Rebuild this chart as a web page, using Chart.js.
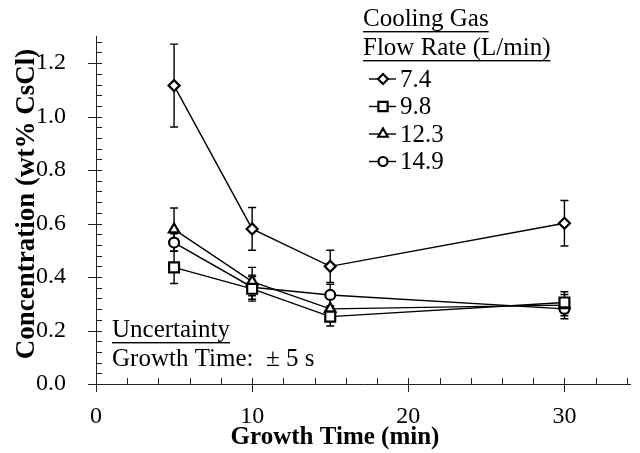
<!DOCTYPE html>
<html>
<head>
<meta charset="utf-8">
<script src="https://cdn.jsdelivr.net/npm/chart.js@4.4.1/dist/chart.umd.min.js"></script>
<style>
  html, body { margin: 0; padding: 0; background: #fff; }
  canvas { display: block; }
</style>
</head>
<body>
<canvas id="concChart" width="640" height="453"></canvas>
<script>
// Growth time (min) and CsCl concentration for each cooling gas flow rate
const growthTimes = [5, 10, 15, 30];
const flowRates = ['7.4', '9.8', '12.3', '14.9'];

const conc74 = [1.116, 0.580, 0.440, 0.601];
const conc98 = [0.436, 0.356, 0.252, 0.305];
const conc123 = [0.578, 0.383, 0.281, 0.295];
const conc149 = [0.529, 0.362, 0.333, 0.281];

// +/- uncertainty on concentration
const err74 = [0.155, 0.080, 0.060, 0.085];
const err98 = [0.060, 0.046, 0.035, 0.040];
const err123 = [0.080, 0.053, 0.040, 0.040];
const err149 = [0.033, 0.045, 0.040, 0.037];

const xTicks = [0, 10, 20, 30];
const yTicks = [0.0, 0.2, 0.4, 0.6, 0.8, 1.0, 1.2];

const serif = "'Liberation Serif', 'Times New Roman', serif";

const markers = [
  { pointStyle: 'rectRot', radius: 5.5 },
  { pointStyle: 'rect', radius: 7 },
  { pointStyle: 'triangle', radius: 6 },
  { pointStyle: 'circle', radius: 5 }
];

const seriesValues = [conc74, conc98, conc123, conc149];
const seriesErrors = [err74, err98, err123, err149];

const datasets = seriesValues.map((vals, i) => ({
  label: flowRates[i],
  data: growthTimes.map((t, j) => ({ x: t, y: vals[j] })),
  errors: seriesErrors[i],
  borderColor: '#000',
  borderWidth: 1.4,
  pointStyle: markers[i].pointStyle,
  pointRadius: markers[i].radius,
  pointBorderWidth: 2.2,
  pointBackgroundColor: '#fff',
  pointBorderColor: '#000',
  tension: 0
}));

// vertical error bars with caps, drawn under the markers
const errorBars = {
  id: 'errorBars',
  beforeDatasetsDraw(chart) {
    const { ctx, scales: { x, y } } = chart;
    ctx.save();
    ctx.strokeStyle = '#000';
    ctx.lineWidth = 1.4;
    chart.data.datasets.forEach(ds => {
      ds.data.forEach((p, j) => {
        const e = ds.errors[j];
        const px = x.getPixelForValue(p.x);
        const top = y.getPixelForValue(p.y + e);
        const bot = y.getPixelForValue(p.y - e);
        ctx.beginPath();
        ctx.moveTo(px, top); ctx.lineTo(px, bot);
        ctx.moveTo(px - 4, top); ctx.lineTo(px + 4, top);
        ctx.moveTo(px - 4, bot); ctx.lineTo(px + 4, bot);
        ctx.stroke();
      });
    });
    ctx.restore();
  }
};

// tick marks, axis titles, legend box and the uncertainty note
const decorations = {
  id: 'decorations',
  afterDraw(chart) {
    const { ctx, chartArea: area, scales: { x, y } } = chart;
    ctx.save();
    ctx.strokeStyle = '#222';
    ctx.lineWidth = 1;
    ctx.beginPath();
    // x: major ticks cross the axis, minor ticks point inward
    for (let v = 0; v <= x.max; v += 2) {
      const px = Math.round(x.getPixelForValue(v)) + 0.5;
      const major = v % 10 === 0;
      ctx.moveTo(px, area.bottom - 6);
      ctx.lineTo(px, area.bottom + (major ? 8 : 0));
    }
    // y: every 0.04
    for (let k = 0; k * 0.04 <= y.max + 1e-9; k++) {
      const py = Math.round(y.getPixelForValue(k * 0.04)) + 0.5;
      const major = k % 5 === 0;
      ctx.moveTo(area.left - (major ? 8 : 0), py);
      ctx.lineTo(area.left + 6, py);
    }
    ctx.stroke();

    ctx.fillStyle = '#000';
    // axis titles
    ctx.font = 'bold 25px ' + serif;
    ctx.textAlign = 'center';
    ctx.textBaseline = 'alphabetic';
    ctx.fillText('Growth Time (min)', 335, 444);
    ctx.save();
    ctx.translate(27, 204);
    ctx.rotate(-Math.PI / 2);
    ctx.font = 'bold 27px ' + serif;
    ctx.textBaseline = 'middle';
    ctx.fillText('Concentration (wt% CsCl)', 0, 0);
    ctx.restore();

    // legend
    ctx.font = '25px ' + serif;
    ctx.textAlign = 'left';
    ctx.textBaseline = 'alphabetic';
    const underline = (text, lx, base) => {
      ctx.fillText(text, lx, base);
      const w = ctx.measureText(text).width;
      ctx.fillRect(lx, base + 5, w, 1.4);
    };
    const lx = 363;
    underline('Cooling Gas', lx, 26);
    underline('Flow Rate (L/min)', lx, 55);
    chart.data.datasets.forEach((ds, i) => {
      const ry = 79 + i * 27.5;
      ctx.strokeStyle = '#000';
      ctx.lineWidth = 1.4;
      ctx.beginPath();
      ctx.moveTo(lx + 6, ry); ctx.lineTo(lx + 33, ry);
      ctx.stroke();
      ctx.fillStyle = '#fff';
      ctx.lineWidth = 2.2;
      Chart.helpers.drawPoint(ctx, {
        pointStyle: ds.pointStyle, radius: ds.pointRadius - 0.5, rotation: 0, borderWidth: 2.2
      }, lx + 20, ry);
      ctx.fillStyle = '#000';
      ctx.textBaseline = 'middle';
      ctx.fillText(ds.label, lx + 37, ry + 1);
      ctx.textBaseline = 'alphabetic';
    });

    // uncertainty note
    underline('Uncertainty', 112, 337);
    ctx.fillText('Growth Time:  \u00b1 5 s', 112, 366);
    ctx.restore();
  }
};

new Chart(document.getElementById('concChart'), {
  type: 'line',
  data: { datasets },
  options: {
    responsive: false,
    animation: false,
    layout: { padding: { top: 11, right: 8, left: 0, bottom: 0 } },
    plugins: {
      legend: { display: false },
      tooltip: { enabled: false }
    },
    scales: {
      x: {
        type: 'linear',
        min: 0,
        max: 34.25,
        grid: { display: false },
        border: { color: '#222', width: 1 },
        afterBuildTicks: s => { s.ticks = xTicks.map(v => ({ value: v })); },
        afterFit: s => { s.height = 69; },
        ticks: {
          color: '#000',
          padding: 10,
          maxRotation: 0,
          font: { family: serif, size: 24 }
        }
      },
      y: {
        min: 0,
        max: 1.3,
        grid: { display: false },
        border: { color: '#222', width: 1 },
        afterBuildTicks: s => { s.ticks = yTicks.map(v => ({ value: v })); },
        afterFit: s => { s.width = 96; },
        ticks: {
          color: '#000',
          padding: 22,
          font: { family: serif, size: 24 },
          callback: v => Number(v).toFixed(1)
        }
      }
    }
  },
  plugins: [errorBars, decorations]
});
</script>
</body>
</html>
